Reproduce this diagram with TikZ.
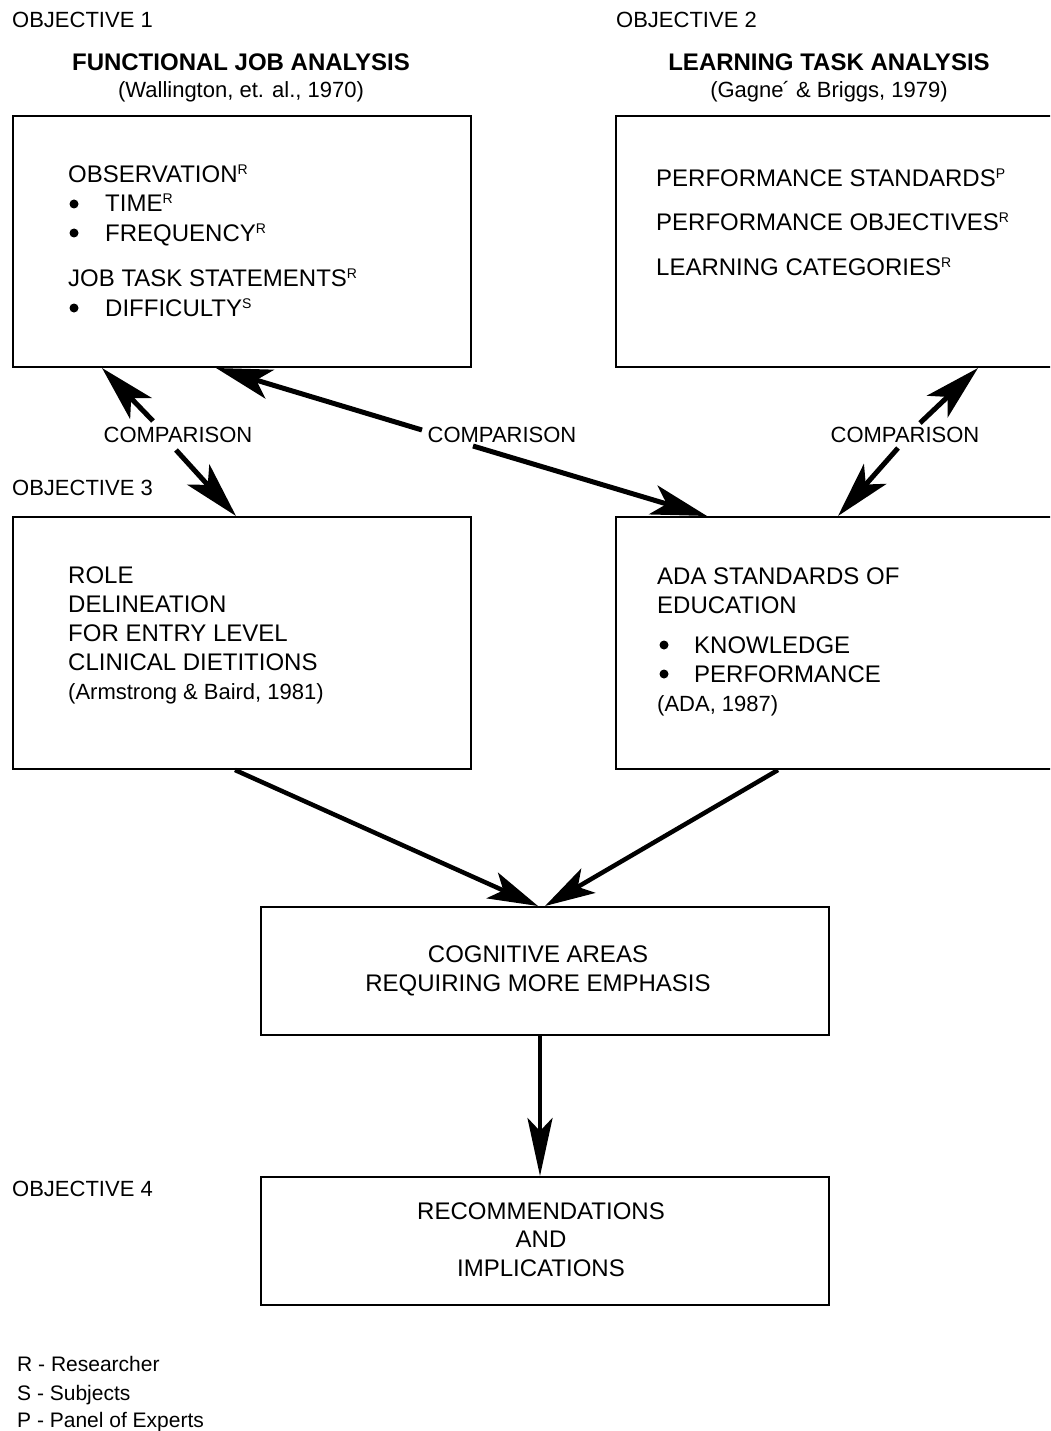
\documentclass[tikz,border=0pt]{standalone}
\usepackage{fontspec}
\setmainfont{Liberation Sans}
\usetikzlibrary{arrows.meta,calc}
\newcommand\supl[1]{\raisebox{8pt}{\fontsize{14}{14}\selectfont #1}}
\begin{document}
\begin{tikzpicture}[x=1pt,y=-1pt,
  box/.style={draw, line width=2pt, inner sep=0pt, anchor=north west},
  tx/.style={anchor=base west, inner sep=0pt, font=\fontsize{24}{28}\selectfont},
  txc/.style={anchor=base, inner sep=0pt, font=\fontsize{24}{28}\selectfont},
  obj/.style={anchor=base west, inner sep=0pt, font=\fontsize{22}{26}\selectfont},
  head/.style={anchor=base, inner sep=0pt, font=\bfseries\fontsize{24}{28}\selectfont},
  cite/.style={anchor=base, inner sep=0pt, font=\fontsize{22}{26}\selectfont},
  cmp/.style={inner sep=0pt, font=\fontsize{22}{25}\selectfont},
  leg/.style={anchor=base west, inner sep=0pt, font=\fontsize{21}{24}\selectfont},
  bul/.style={circle, fill, inner sep=0pt, minimum size=9pt},
  carr/.style={line width=5pt, -{Stealth[length=56pt,width=30pt,inset=14pt]}},
  darr/.style={line width=4.5pt, -{Stealth[length=50pt,width=28pt,inset=12pt]}},
  varr/.style={line width=4.5pt, -{Stealth[length=58pt,width=25pt,inset=13pt]}}]
\useasboundingbox (0,0) rectangle (1050,1431);
\clip (0,0) rectangle (1050,1431);

% headers
\node[obj] (o1) at (12,28) {OBJECTIVE 1};
\node[head] (h1) at (241,71) {FUNCTIONAL JOB ANALYSIS};
\node[cite] (c1) at (241,98) {(Wallington, et. al., 1970)};
\node[obj] (o2) at (616,28) {OBJECTIVE 2};
\node[head] (h2) at (829,71) {LEARNING TASK ANALYSIS};
\node[cite] (c2) at (829,98) {(Gagne\kern-1pt´ \& Briggs, 1979)};

% box 1
\node[box, minimum width=458pt, minimum height=251pt] (b1) at (12,115) {};
\node[tx] (t11) at (68,183) {OBSERVATION\supl{R}};
\node[bul] (u11) at (74,204) {};
\node[tx] (t12) at (105,212) {TIME\supl{R}};
\node[bul] (u12) at (74,233) {};
\node[tx] (t13) at (105,241) {FREQUENCY\supl{R}};
\node[tx] (t14) at (68,286) {JOB TASK STATEMENTS\supl{R}};
\node[bul] (u14) at (74,308) {};
\node[tx] (t15) at (105,316) {DIFFICULTY\supl{S}};

% box 2
\node[box, minimum width=460pt, minimum height=251pt] (b2) at (615,115) {};
\node[tx] (t21) at (656,187) {PERFORMANCE STANDARDS\supl{P}};
\node[tx] (t22) at (656,231) {PERFORMANCE OBJECTIVES\supl{R}};
\node[tx] (t23) at (656,276) {LEARNING CATEGORIES\supl{R}};

% comparison labels
\node[cmp] (cmpL) at (178,435) {COMPARISON};
\node[cmp] (cmpM) at (502,435) {COMPARISON};
\node[cmp] (cmpR) at (905,435) {COMPARISON};

\node[obj] (o3) at (12,495) {OBJECTIVE 3};

% box 3
\node[box, minimum width=458pt, minimum height=252pt] (b3) at (12,516) {};
\node[tx] (t31) at (68,583) {ROLE};
\node[tx] (t32) at (68,612) {DELINEATION};
\node[tx] (t33) at (68,641) {FOR ENTRY LEVEL};
\node[tx] (t34) at (68,670) {CLINICAL DIETITIONS};
\node[obj] (t35) at (68,699) {(Armstrong \& Baird, 1981)};

% box 4
\node[box, minimum width=460pt, minimum height=252pt] (b4) at (615,516) {};
\node[tx] (t41) at (657,584) {ADA STANDARDS OF};
\node[tx] (t42) at (657,613) {EDUCATION};
\node[bul] (u43) at (664,645) {};
\node[tx] (t43) at (694,653) {KNOWLEDGE};
\node[bul] (u44) at (664,674) {};
\node[tx] (t44) at (694,682) {PERFORMANCE};
\node[obj] (t45) at (657,711) {(ADA, 1987)};

% box 5
\node[box, minimum width=568pt, minimum height=128pt] (b5) at (260,906) {};
\node[txc] (t51) at (538,962) {COGNITIVE AREAS};
\node[txc] (t52) at (538,991) {REQUIRING MORE EMPHASIS};

\node[obj] (o4) at (12,1196) {OBJECTIVE 4};

% box 6
\node[box, minimum width=568pt, minimum height=128pt] (b6) at (260,1176) {};
\node[txc] (t61) at (541,1219) {RECOMMENDATIONS};
\node[txc] (t62) at (541,1247) {AND};
\node[txc] (t63) at (541,1276) {IMPLICATIONS};

% legend
\node[leg] (l1) at (17,1371) {R - Researcher};
\node[leg] (l2) at (17,1400) {S - Subjects};
\node[leg] (l3) at (17,1427) {P - Panel of Experts};

% comparison arrows
\coordinate (sL1) at (153,421);
\coordinate (sL2) at (176,450);
\coordinate (sM1) at (422,430);
\coordinate (sM2) at (473,446);
\coordinate (sR1) at (920,423);
\coordinate (sR2) at (898,448);
\draw[carr] (sL1) -- ([xshift=90pt]b1.south west);
\draw[carr] (sL2) -- ([xshift=224pt]b3.north west);
\draw[carr] (sM1) -- ([xshift=204pt]b1.south west);
\draw[carr] (sM2) -- ([xshift=92pt]b4.north west);
\draw[carr] (sR1) -- ([xshift=363pt]b2.south west);
\draw[carr] (sR2) -- ([xshift=223pt]b4.north west);

% converging arrows
\draw[darr] ([xshift=223pt]b3.south west) -- ([xshift=278pt]b5.north west);
\draw[darr] ([xshift=163pt]b4.south west) -- ([xshift=285pt]b5.north west);
\draw[varr] ([xshift=280pt]b5.south west) -- ([xshift=280pt]b6.north west);
\end{tikzpicture}
\end{document}
